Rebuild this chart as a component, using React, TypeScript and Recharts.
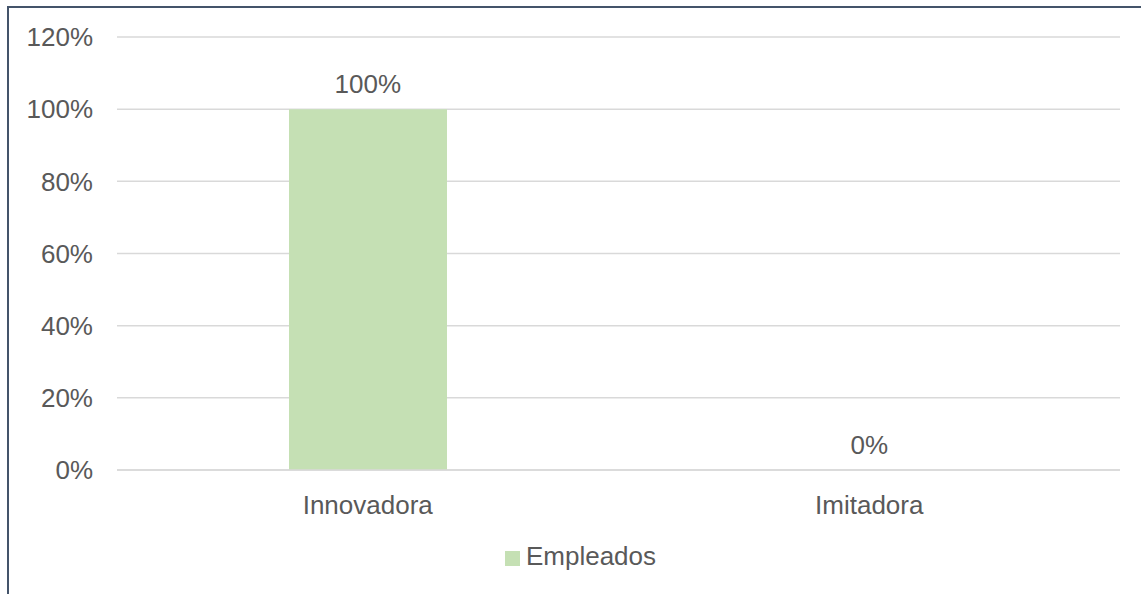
import { ComposedChart, Bar, Line, XAxis, YAxis, CartesianGrid, Legend } from 'recharts';

const categories = ['Innovadora', 'Imitadora'];
const empleados = [1, 0];
const yTicks = [0, 0.2, 0.4, 0.6, 0.8, 1, 1.2];

const data = categories.map((name, i) => ({ name, empleados: empleados[i] }));

const pct = (v: number) => `${Math.round(v * 100)}%`;
const textColor = '#595959';
const fontSize = 26;

// value label above each bar; drawn from an invisible line so the 0% bar gets one too
const renderValue = (props: any) => {
  const { x, y, value } = props;
  return (
    <text x={Number(x)} y={Number(y) - 16} textAnchor="middle" fill={textColor} fontSize={fontSize}>
      {pct(Number(value))}
    </text>
  );
};

export default function App() {
  return (
    <div style={{ position: 'fixed', left: 0, top: 0, width: 1141, height: 594, background: '#fff', overflow: 'hidden', fontFamily: '"Liberation Sans", Arial, sans-serif' }}>
      <div style={{ position: 'absolute', left: 7, top: 6, width: 1150, height: 620, border: '2px solid #44546A', boxSizing: 'border-box' }} />
      <div style={{ position: 'absolute', left: 0, top: 0 }}>
        <ComposedChart width={1141} height={594} data={data} margin={{ top: 37, right: 21, left: 0, bottom: 64 }}>
          <CartesianGrid vertical={false} stroke="#d9d9d9" strokeWidth={1.5} />
          <XAxis
            dataKey="name"
            axisLine={{ stroke: '#d9d9d9', strokeWidth: 1.5 }}
            tickLine={false}
            tickSize={0}
            tickMargin={26}
            height={60}
            tick={{ fill: textColor, fontSize }}
          />
          <YAxis
            domain={[0, 1.2]}
            ticks={yTicks}
            tickFormatter={pct}
            axisLine={false}
            tickLine={false}
            tickSize={0}
            tickMargin={24}
            width={117}
            tick={{ fill: textColor, fontSize }}
          />
          <Legend
            layout="horizontal"
            verticalAlign="middle"
            align="center"
            iconType="square"
            iconSize={15}
            wrapperStyle={{ top: 541, left: 15, width: 1141, fontSize, lineHeight: '30px' }}
            formatter={(v) => <span style={{ color: textColor, marginLeft: 2 }}>{v}</span>}
          />
          <Bar dataKey="empleados" name="Empleados" fill="#c5e0b4" barSize={158} isAnimationActive={false} />
          <Line
            dataKey="empleados"
            stroke="none"
            dot={false}
            activeDot={false}
            legendType="none"
            isAnimationActive={false}
            label={renderValue}
          />
        </ComposedChart>
      </div>
    </div>
  );
}
